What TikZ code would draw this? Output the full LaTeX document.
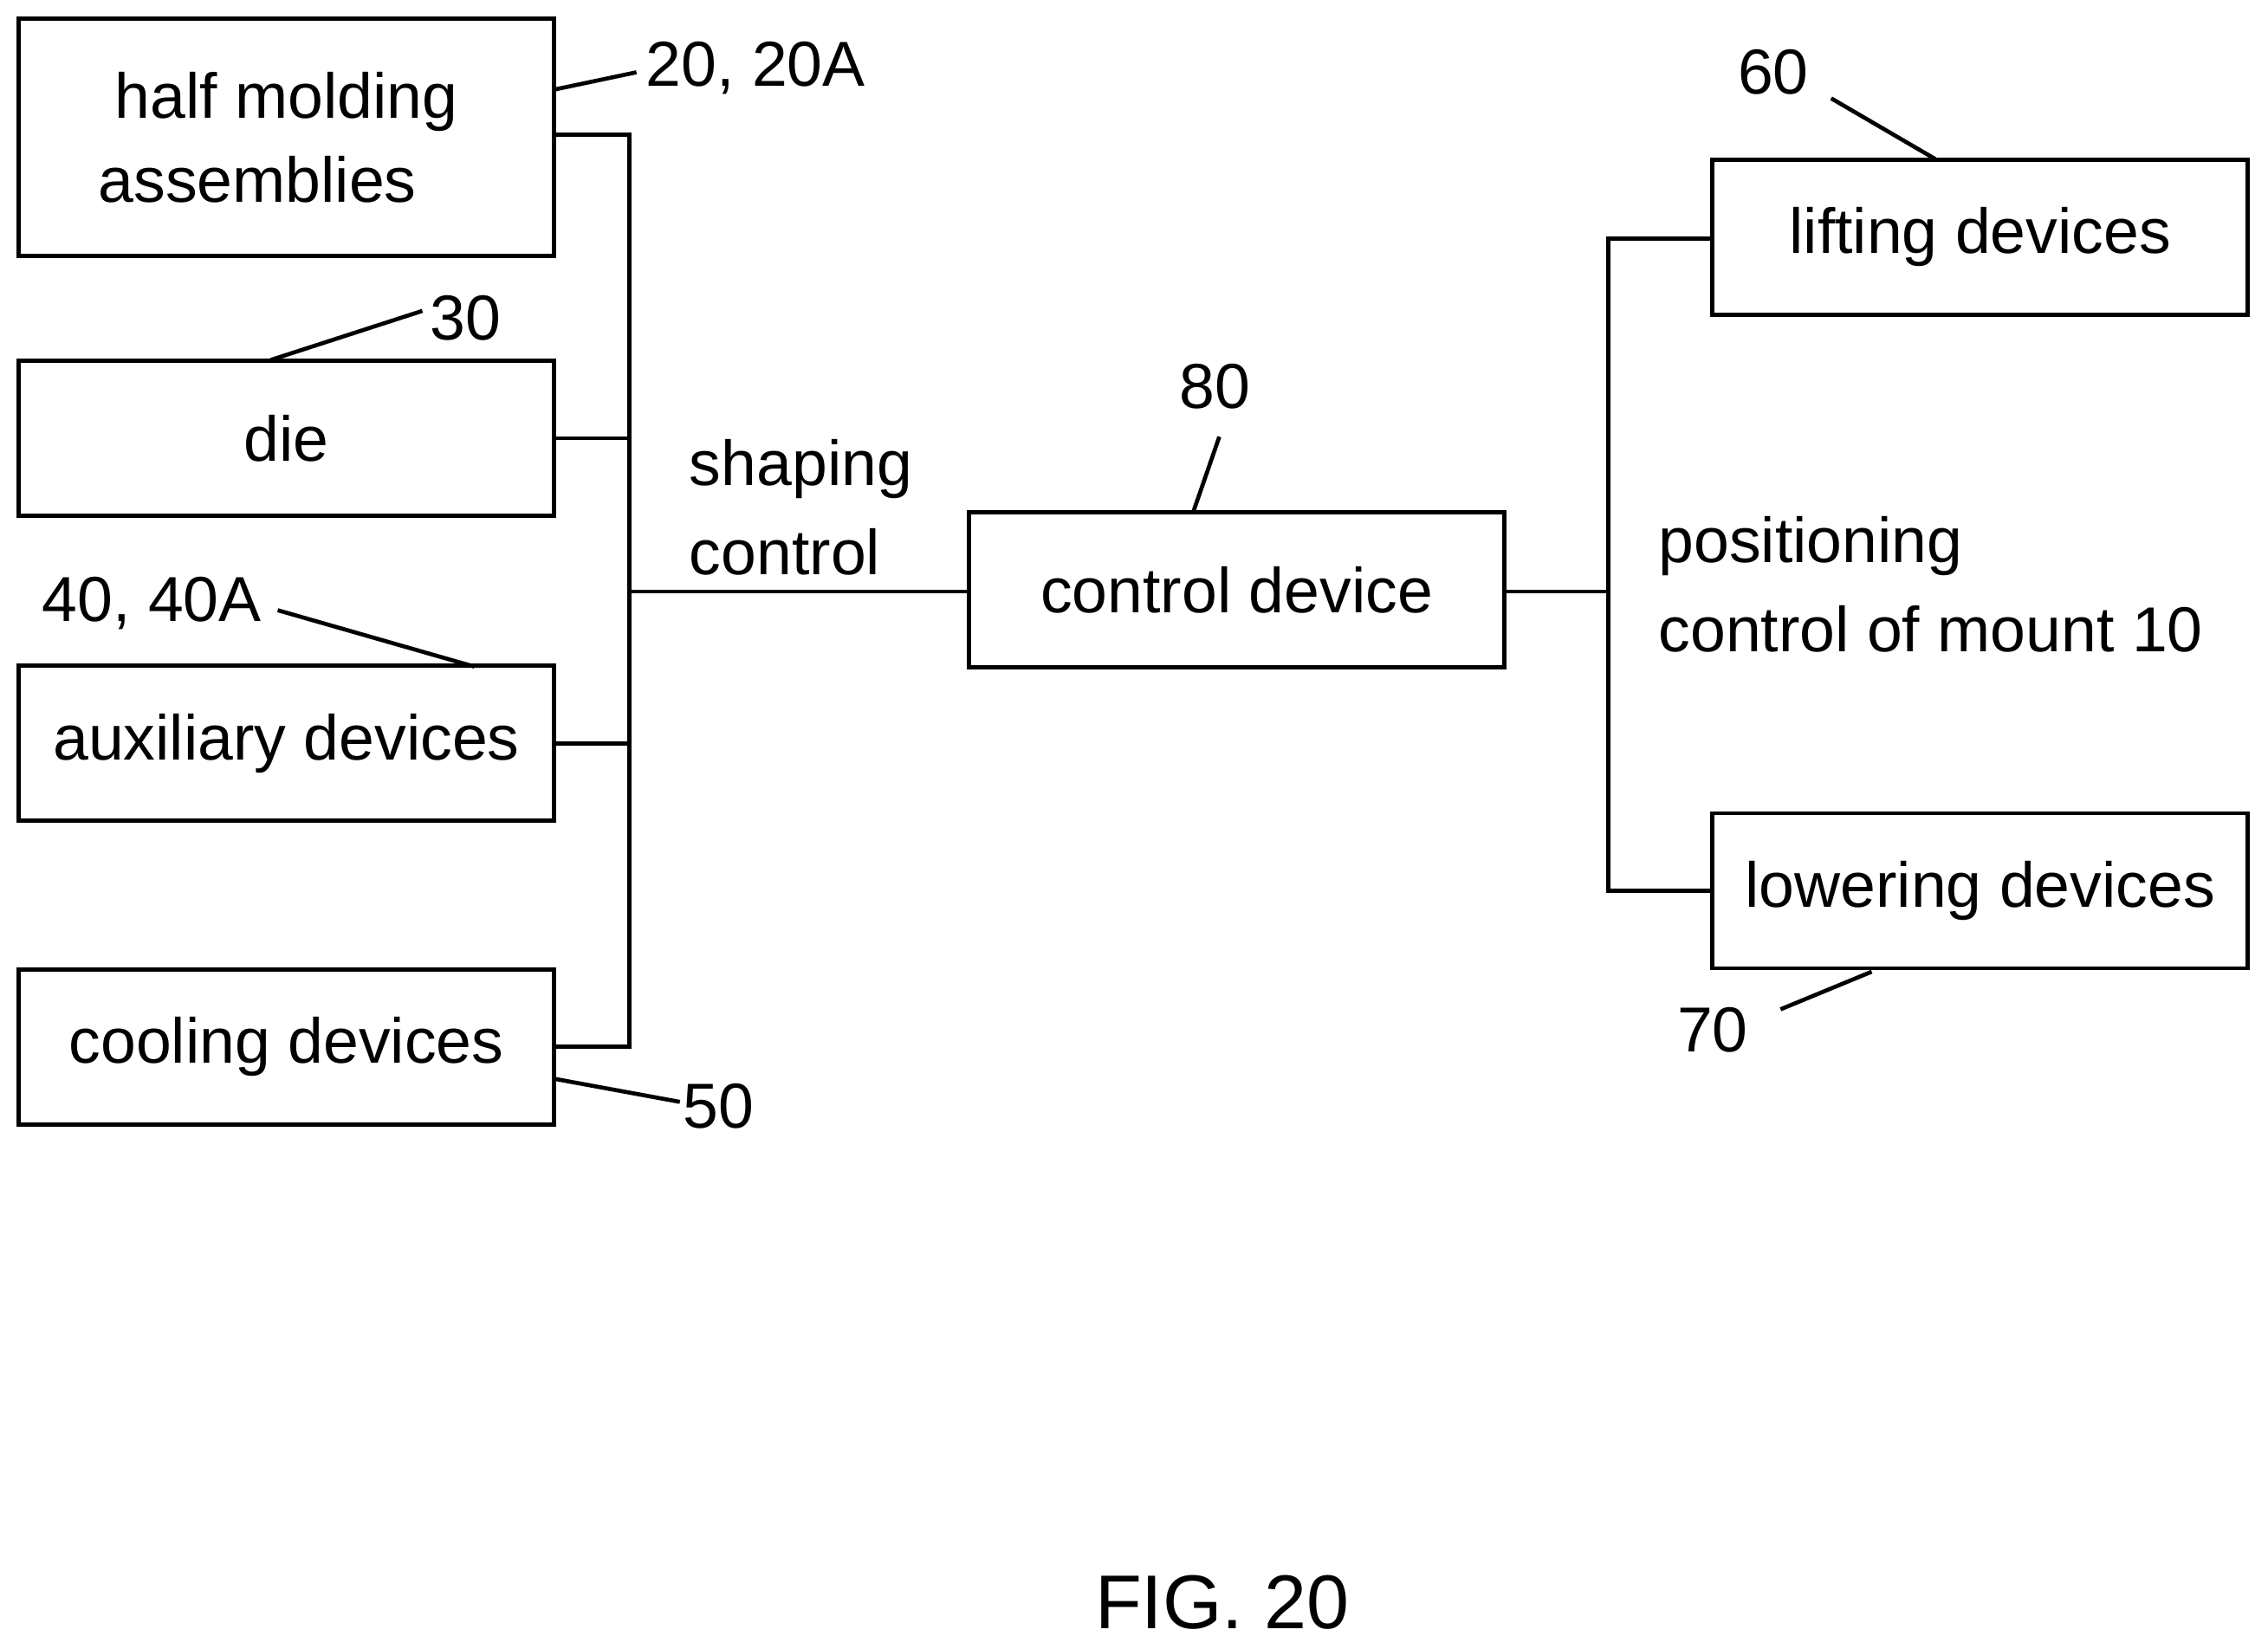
\documentclass[tikz,border=0pt]{standalone}
\usepackage{fontspec}
\setmainfont{Liberation Sans}
\usetikzlibrary{positioning}
\tikzstyle{block} = [rectangle, draw=black, line width=0.8pt, minimum width=3.7cm, minimum height=1.07cm, align=center, inner sep=0pt]
\tikzstyle{lbl} = [inner sep=0pt, align=left]
\tikzstyle{wire} = [line width=0.8pt]
\begin{document}
\begin{tikzpicture}[x=0.01cm,y=-0.01cm,font=\fontsize{12.5}{16.5}\selectfont]
\useasboundingbox (0,0) rectangle (1568,1140);
% left column
\node (half) [block, minimum height=1.64cm] at (198,95) {half molding\\assemblies\hspace*{0.4cm}};
\node (die) [block] at (198,303) {die};
\node (aux) [block] at (198,514) {auxiliary devices};
\node (cool) [block] at (198,724) {cooling devices};
% middle and right
\node (ctrl) [block] at (855,408) {control device};
\node (lift) [block] at (1369,164) {lifting devices};
\node (lower) [block] at (1369,616) {lowering devices};
% bus lines
\coordinate (busT) at (435,93);
\coordinate (busB) at (435,724);
\coordinate (busM) at (435,409);
\coordinate (rT) at (1112,165);
\coordinate (rB) at (1112,616);
\coordinate (rM) at (1112,409);
\draw[wire] (half.east |- busT) -- (busT) -- (busB) -- (cool.east |- busB);
\draw[wire] (die.east) -- (die.east -| busT);
\draw[wire] (aux.east) -- (aux.east -| busT);
\draw[wire] (busM) -- (ctrl.west |- busM);
\draw[wire] (ctrl.east |- rM) -- (rM);
\draw[wire] (lift.west |- rT) -- (rT) -- (rB) -- (lower.west |- rB);
% reference numerals
\node (n20) [lbl, anchor=west] at (446,47) {20, 20A};
\node (n30) [lbl] at (322,220) {30};
\node (n40) [lbl] at (105,417) {40, 40A};
\node (n50) [lbl] at (497,765) {50};
\node (n80) [lbl] at (840,267) {80};
\node (n60) [lbl] at (1226,50) {60};
\node (n70) [lbl] at (1184,712) {70};
\draw[wire] (383,62) -- (440,50);
\draw[wire] (187,249) -- (292,215);
\draw[wire] (192,422) -- (328,461);
\draw[wire] (383,746) -- (470,762);
\draw[wire] (825,354) -- (843,302);
\draw[wire] (1266,68) -- (1338,110);
\draw[wire] (1231,698) -- (1294,672);
% signal labels
\node (shape) [lbl, anchor=west, font=\fontsize{12.5}{17.5}\selectfont] at (476,351) {shaping\\control};
\node (pos) [lbl, anchor=west, font=\fontsize{12.5}{17.5}\selectfont] at (1146,404) {positioning\\control of mount 10};
\node (fig) [lbl, font=\fontsize{15}{18}\selectfont] at (845,1108) {FIG. 20};
\end{tikzpicture}
\end{document}
